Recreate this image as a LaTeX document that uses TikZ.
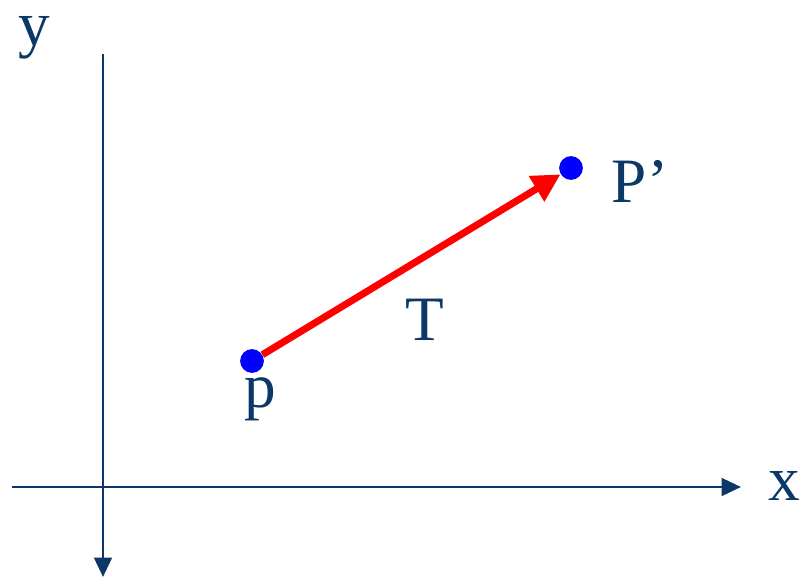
\documentclass[tikz,border=0pt]{standalone}
\usepackage{fontspec}
\setmainfont{Liberation Serif}
\usetikzlibrary{arrows.meta}
\definecolor{navy}{RGB}{12,56,104}
\begin{document}
\begin{tikzpicture}[x=0.02cm,y=-0.02cm,
  axis/.style={draw=navy,line width=1.6pt,-{Triangle[length=11pt,width=10pt]}},
  lbl/.style={text=navy,inner sep=0pt,anchor=base,font=\fontsize{36}{36}\selectfont},
  pt/.style={circle,fill=blue,inner sep=0pt,minimum size=13.5pt}]
\useasboundingbox (0,0) rectangle (801,577);
\coordinate (xl) at (12,487);
\coordinate (xr) at (741,487);
\coordinate (yt) at (103,54);
\coordinate (yb) at (103,577);
\draw[axis] (xl) -- (xr);
\draw[axis] (yt) -- (yb);
\node[pt] (p) at (252,361) {};
\node[pt] (q) at (571,168) {};
\draw[red,line width=4pt,-{Triangle[length=16pt,width=16pt]}] (p) -- (q);
\node[lbl] (ylab) at (34,46) {y};
\node[lbl] (xlab) at (784,500) {x};
\node[lbl] (plab) at (260,407) {p};
\node[lbl] (qlab) at (640,203) {P’};
\node[lbl] (tlab) at (425,341) {T};
\end{tikzpicture}
\end{document}
